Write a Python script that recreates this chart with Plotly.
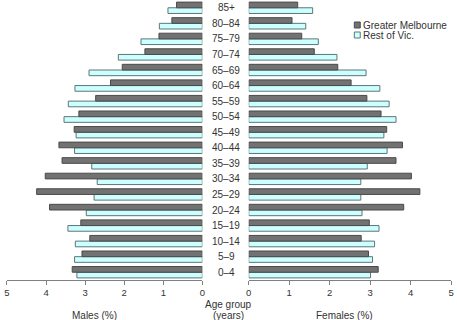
import plotly.graph_objects as go

age_groups = ["0–4", "5–9", "10–14", "15–19", "20–24", "25–29", "30–34", "35–39",
              "40–44", "45–49", "50–54", "55–59", "60–64", "65–69", "70–74", "75–79",
              "80–84", "85+"]  # bottom to top

males_gm = [3.33, 3.08, 2.88, 3.11, 3.91, 4.24, 4.02, 3.59, 3.67, 3.28, 3.16, 2.73,
            2.35, 2.05, 1.47, 1.11, 0.78, 0.66]
males_rv = [3.21, 3.27, 3.25, 3.44, 2.97, 2.77, 2.69, 2.83, 3.27, 3.23, 3.54, 3.43,
            3.26, 2.90, 2.15, 1.57, 1.10, 0.88]
females_gm = [3.20, 2.96, 2.78, 2.98, 3.83, 4.23, 4.02, 3.64, 3.80, 3.41, 3.27, 2.92,
              2.53, 2.20, 1.62, 1.31, 1.07, 1.21]
females_rv = [3.01, 3.06, 3.11, 3.22, 2.80, 2.77, 2.77, 2.93, 3.42, 3.34, 3.64, 3.47,
              3.24, 2.90, 2.18, 1.72, 1.41, 1.58]
tick_vals = [0, 1, 2, 3, 4, 5]
series_names = ["Greater Melbourne", "Rest of Vic."]

GM_FILL, GM_LINE = "#727272", "#4a4a4a"
RV_FILL, RV_LINE = "#ccffff", "#5e7676"
FONT = "Liberation Sans, Arial, sans-serif"
TXT = "#333333"

W, H = 457, 320
T, B = 0, 40
PH = H - T - B


def py(y):
    """pixel y -> paper y"""
    return (H - B - y) / PH


fig = go.Figure()
# Rest of Vic first so it sits below Greater Melbourne within each group
fig.add_trace(go.Bar(y=age_groups, x=males_rv, orientation="h", xaxis="x", yaxis="y",
                     marker=dict(color=RV_FILL, line=dict(color=RV_LINE, width=1)),
                     name=series_names[1], showlegend=False))
fig.add_trace(go.Bar(y=age_groups, x=males_gm, orientation="h", xaxis="x", yaxis="y",
                     marker=dict(color=GM_FILL, line=dict(color=GM_LINE, width=1)),
                     name=series_names[0], showlegend=False))
fig.add_trace(go.Bar(y=age_groups, x=females_rv, orientation="h", xaxis="x2", yaxis="y2",
                     marker=dict(color=RV_FILL, line=dict(color=RV_LINE, width=1)),
                     name=series_names[1], showlegend=False))
fig.add_trace(go.Bar(y=age_groups, x=females_gm, orientation="h", xaxis="x2", yaxis="y2",
                     marker=dict(color=GM_FILL, line=dict(color=GM_LINE, width=1)),
                     name=series_names[0], showlegend=False))

axis_common = dict(showgrid=False, zeroline=False, showline=True, linecolor="#808080",
                   linewidth=1, ticks="outside", ticklen=4, tickcolor="#808080",
                   tickvals=tick_vals, tickfont=dict(family=FONT, size=9.5, color=TXT),
                   fixedrange=True)
yaxis_common = dict(showgrid=False, zeroline=False, showline=False, showticklabels=False,
                    ticks="", categoryorder="array", categoryarray=age_groups,
                    range=[-0.5, len(age_groups) - 0.5], fixedrange=True)

fig.update_layout(
    width=W, height=H,
    margin=dict(l=0, r=0, t=T, b=B),
    paper_bgcolor="white", plot_bgcolor="white",
    barmode="group", bargap=0.27, bargroupgap=0,
    xaxis=dict(domain=[4 / W, 202 / W], range=[5, 0], anchor="y", **axis_common),
    xaxis2=dict(domain=[249 / W, 454 / W], range=[0, 5], anchor="y2", **axis_common),
    yaxis=dict(anchor="x", **yaxis_common),
    yaxis2=dict(anchor="x2", **yaxis_common),
    showlegend=False,
)

for g in age_groups:
    fig.add_annotation(x=226 / W, xref="paper", y=g, yref="y", text=g, showarrow=False,
                       font=dict(family=FONT, size=10, color=TXT), xanchor="center")

for txt, x, y in [("Age group", 228, 304), ("(years)", 228, 315),
                  ("Males (%)", 93, 315), ("Females (%)", 346, 315)]:
    fig.add_annotation(x=x / W, xref="paper", y=py(y), yref="paper", yanchor="middle",
                       text=txt, showarrow=False, xanchor="center",
                       font=dict(family=FONT, size=10, color=TXT))

# legend
for (name, fill, line, ytop) in [(series_names[0], GM_FILL, GM_LINE, 22),
                                 (series_names[1], RV_FILL, RV_LINE, 32)]:
    fig.add_shape(type="rect", xref="paper", yref="paper",
                  x0=356 / W, x1=362 / W, y0=py(ytop), y1=py(ytop + 6),
                  fillcolor=fill, line=dict(color=line, width=1))
    fig.add_annotation(x=363 / W, xref="paper", y=py(ytop + 3), yref="paper",
                       text=name, showarrow=False, xanchor="left", yanchor="middle",
                       font=dict(family=FONT, size=10, color=TXT))

fig.write_html("out.html", config={"displayModeBar": False},
               post_script="document.body.style.margin='0';")
